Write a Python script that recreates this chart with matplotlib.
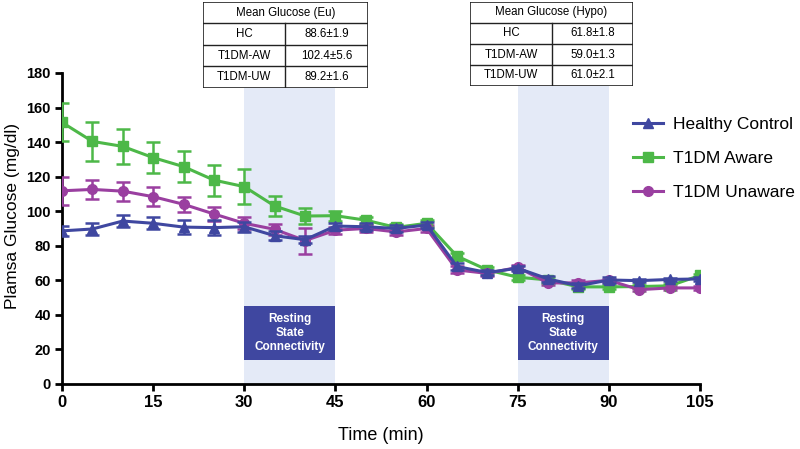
import numpy as np
import matplotlib
matplotlib.use("Agg")
import matplotlib.pyplot as plt
from matplotlib.patches import Rectangle
from matplotlib.lines import Line2D

# --- data ---
time_min = [0, 5, 10, 15, 20, 25, 30, 35, 40, 45, 50, 55,
            60, 65, 70, 75, 80, 85, 90, 95, 100, 105]

hc_mean = [88.6, 89.7, 94.3, 93.0, 90.8, 90.5, 91.0, 85.8, 83.5, 91.4, 91.0, 90.0,
           92.0, 68.0, 64.5, 67.0, 60.8, 56.8, 60.2, 59.8, 60.5, 60.8]
hc_err = [3.0, 3.5, 3.5, 3.5, 4.0, 4.5, 3.0, 2.5, 2.0, 2.0, 2.0, 2.0,
          2.0, 2.0, 1.5, 1.5, 1.5, 1.5, 1.5, 1.0, 1.0, 1.0]

aw_mean = [151.4, 140.4, 137.5, 131.0, 125.8, 118.0, 114.2, 103.0, 97.2, 97.4, 94.8, 90.6,
           93.0, 74.0, 66.0, 61.8, 60.2, 56.2, 56.2, 56.4, 56.8, 62.8]
aw_err = [11.0, 11.5, 10.0, 9.0, 9.0, 9.0, 10.0, 6.0, 4.5, 3.0, 2.0, 2.0,
          2.0, 2.0, 1.5, 1.5, 1.5, 1.5, 1.0, 1.0, 1.0, 1.0]

uw_mean = [111.8, 112.6, 111.6, 108.4, 104.0, 98.4, 93.0, 89.5, 83.0, 89.0, 90.0, 88.0,
           90.0, 66.0, 64.0, 67.5, 58.5, 58.5, 60.0, 54.6, 55.6, 55.6]
uw_err = [8.0, 5.5, 5.5, 5.5, 4.5, 4.0, 3.5, 3.0, 7.5, 2.0, 2.0, 2.0,
          2.0, 2.0, 1.5, 1.5, 1.5, 1.5, 1.0, 1.0, 1.0, 1.0]

series_names = ["Healthy Control", "T1DM Aware", "T1DM Unaware"]
series_colors = ["#3F47A0", "#4DB848", "#9A3FA0"]
series_markers = ["^", "s", "o"]

resting_windows = [(30, 45), (75, 90)]

eu_table = [["HC", "88.6±1.9"], ["T1DM-AW", "102.4±5.6"], ["T1DM-UW", "89.2±1.6"]]
hypo_table = [["HC", "61.8±1.8"], ["T1DM-AW", "59.0±1.3"], ["T1DM-UW", "61.0±2.1"]]

plt.rcParams["font.family"] = ["Liberation Sans", "DejaVu Sans"]

# --- figure ---
fig = plt.figure(figsize=(8.0, 4.49), dpi=100)
ax = fig.add_axes([0.0775, 0.1448, 0.7975, 0.6927])

for x0, x1 in resting_windows:
    ax.axvspan(x0, x1, color="#E4EAF7", zorder=0, lw=0)
    ax.add_patch(Rectangle((x0, 14), x1 - x0, 31, facecolor="#3F47A0",
                           edgecolor="none", zorder=1))
    ax.text((x0 + x1) / 2, 29.5, "Resting\nState\nConnectivity", color="white",
            ha="center", va="center", fontsize=8.5, fontweight="bold",
            linespacing=1.2, zorder=2)

data = [(hc_mean, hc_err), (aw_mean, aw_err), (uw_mean, uw_err)]
# green and purple first so the blue line sits on top
for idx in [1, 2, 0]:
    m, e = data[idx]
    ax.errorbar(time_min, m, yerr=e, color=series_colors[idx],
                marker=series_markers[idx], markersize=7, lw=2.2,
                elinewidth=1.8, capsize=5, capthick=1.8,
                zorder=3 + (idx == 0))

ax.set_xlim(0, 105)
ax.set_ylim(0, 180)
ax.set_xticks(np.arange(0, 106, 15))
ax.set_yticks(np.arange(0, 181, 20))
for sp in ["top", "right"]:
    ax.spines[sp].set_visible(False)
for sp in ["left", "bottom"]:
    ax.spines[sp].set_linewidth(2.0)
ax.tick_params(direction="out", length=5, width=2.0, pad=3)
for lab in ax.get_xticklabels():
    lab.set_fontweight("bold")
    lab.set_fontsize(12)
for lab in ax.get_yticklabels():
    lab.set_fontweight("bold")
    lab.set_fontsize(10.5)

ax.set_xlabel("Time (min)", fontsize=13)
ax.xaxis.set_label_coords(0.5, -0.138)
ax.set_ylabel("Plamsa Glucose (mg/dl)", fontsize=12.5)
ax.yaxis.set_label_coords(-0.066, 0.54)

leg_h = [Line2D([], [], color=c, marker=mk, markersize=7, lw=2.2)
         for c, mk in zip(series_colors, series_markers)]
fig.legend(leg_h, series_names, loc="upper left", bbox_to_anchor=(0.772, 0.775),
           frameon=False, fontsize=12.5, handlelength=1.7, labelspacing=1.1,
           handletextpad=0.6)


def draw_table(x0, x1, xdiv, y_top, y_bot, title, rows):
    # coordinates in pixels, converted to figure fraction
    W, H = 800.0, 449.0
    tax = fig.add_axes([x0 / W, 1 - y_bot / H, (x1 - x0) / W, (y_bot - y_top) / H])
    tax.set_xlim(x0, x1)
    tax.set_ylim(y_bot, y_top)
    tax.axis("off")
    tax.add_patch(Rectangle((x0, y_top), x1 - x0, y_bot - y_top,
                            facecolor="white", edgecolor="#222222", lw=1.2))
    rh = (y_bot - y_top) / 4.0
    for i in range(1, 4):
        tax.plot([x0, x1], [y_top + i * rh] * 2, color="#222222", lw=1.0)
    tax.plot([xdiv, xdiv], [y_top + rh, y_bot], color="#222222", lw=1.0)
    tax.text((x0 + x1) / 2, y_top + rh / 2, title, ha="center", va="center", fontsize=8.3)
    for i, (a, b) in enumerate(rows):
        yc = y_top + rh * (i + 1.5)
        tax.text((x0 + xdiv) / 2, yc, a, ha="center", va="center", fontsize=8.3)
        tax.text((xdiv + x1) / 2, yc, b, ha="center", va="center", fontsize=8.3)


draw_table(203, 368, 285, 2, 88, "Mean Glucose (Eu)", eu_table)
draw_table(470, 633, 552, 2, 86, "Mean Glucose (Hypo)", hypo_table)

fig.savefig("out.png", dpi=100, facecolor="white")
